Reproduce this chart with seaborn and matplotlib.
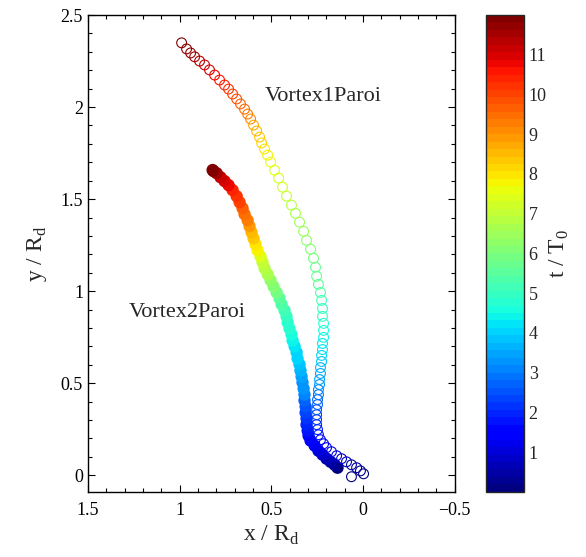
"""
Trajectoires des tourbillons près de la paroi, colorées par le temps t/T0
"""
import numpy as np
import pandas as pd
import matplotlib
matplotlib.use("Agg")
import matplotlib.pyplot as plt
import seaborn as sns
from matplotlib.ticker import MultipleLocator, FuncFormatter
from matplotlib.colors import Normalize
from matplotlib.cm import ScalarMappable

sns.set_style("ticks")
plt.rcParams["font.family"] = ["Liberation Serif", "DejaVu Serif"]
plt.rcParams["mathtext.fontset"] = "custom"
plt.rcParams["mathtext.rm"] = "Liberation Serif"
plt.rcParams["axes.unicode_minus"] = True

# ── données : vortex 1 (cercles ouverts) ─────────────────────────────────────
x1 = [0.063, -0.003, 0.014, 0.035, 0.063, 0.090, 0.117, 0.144, 0.172, 0.199,
      0.215, 0.232, 0.243, 0.248, 0.253, 0.253, 0.253, 0.253, 0.248, 0.248,
      0.243, 0.243, 0.237, 0.237, 0.232, 0.232, 0.226, 0.226, 0.221, 0.221,
      0.215, 0.215, 0.215, 0.221, 0.221, 0.226, 0.232, 0.243, 0.253, 0.259,
      0.270, 0.286, 0.308, 0.324, 0.346, 0.368, 0.390, 0.417, 0.439, 0.460,
      0.482, 0.504, 0.520, 0.537, 0.553, 0.564, 0.580, 0.597, 0.613, 0.629,
      0.646, 0.668, 0.689, 0.711, 0.733, 0.755, 0.782, 0.809, 0.837, 0.864,
      0.891, 0.918, 0.940, 0.962, 0.989]
y1 = [-0.008, 0.008, 0.024, 0.041, 0.057, 0.073, 0.090, 0.106, 0.128, 0.150,
      0.171, 0.193, 0.220, 0.248, 0.275, 0.302, 0.329, 0.356, 0.384, 0.411,
      0.438, 0.465, 0.493, 0.520, 0.553, 0.585, 0.618, 0.651, 0.683, 0.716,
      0.749, 0.787, 0.825, 0.863, 0.906, 0.950, 0.993, 1.037, 1.081, 1.130,
      1.179, 1.228, 1.276, 1.325, 1.375, 1.423, 1.467, 1.516, 1.565, 1.614,
      1.657, 1.701, 1.739, 1.772, 1.805, 1.837, 1.870, 1.902, 1.935, 1.962,
      1.989, 2.017, 2.044, 2.071, 2.098, 2.120, 2.147, 2.174, 2.202, 2.229,
      2.250, 2.273, 2.294, 2.316, 2.349]
t1 = [0.02, 0.10, 0.25, 0.40, 0.55, 0.70, 0.85, 1.00, 1.15, 1.30,
      1.45, 1.60, 1.75, 1.90, 2.05, 2.20, 2.35, 2.50, 2.65, 2.80,
      2.95, 3.10, 3.25, 3.40, 3.55, 3.70, 3.85, 4.00, 4.15, 4.30,
      4.45, 4.60, 4.75, 4.90, 5.05, 5.20, 5.35, 5.50, 5.65, 5.80,
      5.95, 6.10, 6.25, 6.40, 6.55, 6.70, 6.85, 7.00, 7.15, 7.30,
      7.45, 7.60, 7.80, 8.00, 8.20, 8.40, 8.60, 8.80, 9.00, 9.20,
      9.40, 9.60, 9.80, 10.00, 10.20, 10.40, 10.60, 10.80, 11.00, 11.20,
      11.35, 11.50, 11.65, 11.80, 11.95]

# ── données : vortex 2 (trace dense) ─────────────────────────────────────────
x2 = [0.139, 0.155, 0.177, 0.199, 0.221, 0.243, 0.264, 0.286, 0.297, 0.302,
      0.308, 0.308, 0.313, 0.313, 0.319, 0.319, 0.324, 0.330, 0.335, 0.341,
      0.346, 0.357, 0.362, 0.373, 0.384, 0.390, 0.401, 0.411, 0.417, 0.428,
      0.444, 0.455, 0.471, 0.488, 0.504, 0.520, 0.537, 0.548, 0.559, 0.575,
      0.586, 0.597, 0.608, 0.619, 0.629, 0.646, 0.657, 0.673, 0.689, 0.711,
      0.733, 0.755, 0.777, 0.798, 0.815, 0.820]
y2 = [0.041, 0.057, 0.073, 0.090, 0.112, 0.133, 0.161, 0.188, 0.215, 0.242,
      0.275, 0.308, 0.340, 0.373, 0.406, 0.438, 0.471, 0.504, 0.536, 0.569,
      0.602, 0.634, 0.667, 0.700, 0.732, 0.765, 0.797, 0.830, 0.863, 0.896,
      0.928, 0.961, 0.993, 1.026, 1.059, 1.091, 1.124, 1.157, 1.189, 1.222,
      1.255, 1.287, 1.320, 1.353, 1.385, 1.418, 1.451, 1.483, 1.516, 1.549,
      1.576, 1.598, 1.619, 1.641, 1.652, 1.658]
t2 = [0.05, 0.20, 0.40, 0.60, 0.80, 1.00, 1.20, 1.40, 1.60, 1.80,
      2.00, 2.20, 2.40, 2.60, 2.80, 3.00, 3.20, 3.35, 3.50, 3.65,
      3.80, 3.95, 4.10, 4.25, 4.40, 4.55, 4.70, 4.85, 5.00, 5.20,
      5.40, 5.60, 5.85, 6.10, 6.35, 6.60, 6.85, 7.10, 7.40, 7.70,
      8.00, 8.30, 8.60, 8.90, 9.20, 9.45, 9.70, 9.95, 10.20, 10.45,
      10.70, 10.95, 11.20, 11.45, 11.70, 11.90]

cb_ticks = list(range(1, 12))
t_lim = (0, 12)

df1 = pd.DataFrame({"x": x1, "y": y1, "t": t1})
df2 = pd.DataFrame({"x": x2, "y": y2, "t": t2})

cmap = matplotlib.colormaps["jet"].resampled(64)
norm = Normalize(*t_lim)

fig = plt.figure(figsize=(5.86, 5.57), dpi=100)
ax = fig.add_axes([0.150, 0.117, 0.626, 0.856])

# vortex 2 : cercles pleins serrés
sns.scatterplot(data=df2, x="x", y="y", hue="t", palette=cmap, hue_norm=norm,
                s=62, marker="o", legend=False, ax=ax)
coll = ax.collections[-1]
coll.set_edgecolors(coll.get_facecolors())
coll.set_linewidths(1.0)

# vortex 1 : cercles ouverts
sns.scatterplot(data=df1, x="x", y="y", hue="t", palette=cmap, hue_norm=norm,
                s=50, marker="o", legend=False, ax=ax)
coll = ax.collections[-1]
coll.set_edgecolors(coll.get_facecolors())
coll.set_facecolors("none")
coll.set_linewidths(0.8)

ax.text(0.538, 2.035, "Vortex1Paroi", fontsize=16, ha="left", va="baseline")
ax.text(1.277, 0.86, "Vortex2Paroi", fontsize=16, ha="left", va="baseline")

fmt = FuncFormatter(lambda v, p: f"{v + 0.0:g}".replace("-", "\u2212"))
ax.set_xlim(1.5, -0.5)
ax.set_ylim(-0.09, 2.5)
ax.xaxis.set_major_locator(MultipleLocator(0.5))
ax.yaxis.set_major_locator(MultipleLocator(0.5))
ax.xaxis.set_minor_locator(MultipleLocator(0.1))
ax.yaxis.set_minor_locator(MultipleLocator(0.1))
ax.xaxis.set_major_formatter(fmt)
ax.yaxis.set_major_formatter(fmt)
ax.tick_params(which="both", direction="in", top=True, right=True,
               labelsize=13, width=0.8, colors="black")
ax.tick_params(which="major", length=5)
ax.tick_params(which="minor", length=3)
ax.tick_params(axis="x", pad=7)
for sp in ax.spines.values():
    sp.set_linewidth(1.0)
    sp.set_color("black")
ax.set_xlabel(r"x / R$_\mathregular{d}$", fontsize=17, labelpad=4)
ax.set_ylabel(r"y / R$_\mathregular{d}$", fontsize=17, labelpad=8)

# ── barre de couleur ─────────────────────────────────────────────────────────
cax = fig.add_axes([0.829, 0.117, 0.065, 0.856])
cb = fig.colorbar(ScalarMappable(norm=norm, cmap=cmap), cax=cax, ticks=cb_ticks)
cb.outline.set_linewidth(1.0)
cax.tick_params(direction="in", length=4, width=0.8, left=True, right=True,
                labelsize=13)
cb.set_label(r"t / T$_\mathregular{0}$", fontsize=17, labelpad=1)

plt.savefig("out.png", dpi=100)
plt.close()
